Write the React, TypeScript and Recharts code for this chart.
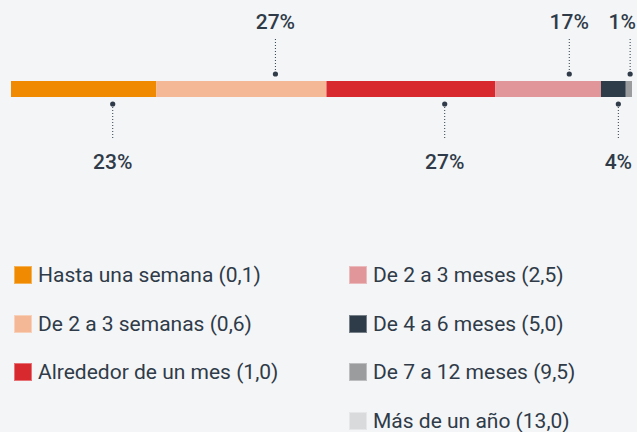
import { BarChart, Bar, XAxis, YAxis, LabelList } from 'recharts'

// Tiempo estimado, porcentaje de respuestas por tramo
const CATEGORIAS = [
  'Hasta una semana',
  'De 2 a 3 semanas',
  'Alrededor de un mes',
  'De 2 a 3 meses',
  'De 4 a 6 meses',
  'De 7 a 12 meses',
  'Más de un año'
]
const PORCENTAJES = [23.4, 27.4, 27.2, 17.0, 4.0, 1.0, 0]
const PROMEDIOS = ['0,1', '0,6', '1,0', '2,5', '5,0', '9,5', '13,0']

const COLORES = ['#F08A00', '#F5B896', '#D8292F', '#E1969A', '#2E3C49', '#9A9C9E', '#D9DADC']
const TEXTO = '#2F3B48'
const FONDO = '#F4F5F7'

const ANCHO = 637
const ALTO_GRAFICO = 178

const fila: Record<string, string | number> = { name: 'total' }
CATEGORIAS.forEach((_, i) => {
  fila[`s${i}`] = PORCENTAJES[i]
})
const datos = [fila]

function Etiqueta(props: any, serie: number) {
  const { x, y, width, height, value } = props
  if (!value) return null
  const cx = x + width * 0.7
  const arriba = serie % 2 === 1
  const texto = `${Math.round(value)}%`
  const cerca = cx + 14 > ANCHO
  const tx = cerca ? ANCHO - 1 : cx
  const anchor = cerca ? 'end' : 'middle'

  if (arriba) {
    const dotY = y - 7
    return (
      <g>
        <line x1={cx} x2={cx} y1={y - 42} y2={dotY} stroke={TEXTO} strokeWidth={1} strokeDasharray="1 2" />
        <circle cx={cx} cy={dotY} r={2.6} fill={TEXTO} />
        <text x={tx} y={y - 52} textAnchor={anchor} fill={TEXTO} fontSize={21} fontWeight={500}>
          {texto}
        </text>
      </g>
    )
  }
  const base = y + height
  const dotY = base + 7
  return (
    <g>
      <line x1={cx} x2={cx} y1={dotY} y2={base + 41} stroke={TEXTO} strokeWidth={1} strokeDasharray="1 2" />
      <circle cx={cx} cy={dotY} r={2.6} fill={TEXTO} />
      <text x={tx} y={base + 72} textAnchor={anchor} fill={TEXTO} fontSize={21} fontWeight={500}>
        {texto}
      </text>
    </g>
  )
}

function ItemLeyenda({ i }: { i: number }) {
  return (
    <div style={{ display: 'flex', alignItems: 'center', height: 48.7 }}>
      <div
        style={{
          width: 18,
          height: 18,
          background: COLORES[i],
          boxSizing: 'border-box',
          border: '1px solid rgba(255,255,255,0.35)',
          marginRight: 6,
          flexShrink: 0
        }}
      />
      <span style={{ fontSize: 21, color: TEXTO, whiteSpace: 'nowrap' }}>
        {CATEGORIAS[i]} ({PROMEDIOS[i]})
      </span>
    </div>
  )
}

export default function App() {
  const izquierda = [0, 1, 2]
  const derecha = [3, 4, 5, 6]
  return (
    <div
      style={{
        position: 'relative',
        width: ANCHO,
        height: 432,
        background: FONDO,
        fontFamily: 'Roboto, "Noto Sans", sans-serif',
        overflow: 'hidden'
      }}
    >
      <style>{`body{margin:0;background:${FONDO};}`}</style>
      <BarChart
        width={ANCHO}
        height={ALTO_GRAFICO}
        data={datos}
        layout="vertical"
        margin={{ top: 0, right: 5, bottom: 0, left: 11 }}
        style={{ fontFamily: 'Roboto, "Noto Sans", sans-serif', overflow: 'visible' }}
      >
        <XAxis type="number" domain={[0, 100]} hide />
        <YAxis type="category" dataKey="name" hide />
        {CATEGORIAS.map((c, i) => (
          <Bar
            key={c}
            dataKey={`s${i}`}
            name={c}
            stackId="a"
            fill={COLORES[i]}
            barSize={16}
            isAnimationActive={false}
          >
            <LabelList dataKey={`s${i}`} content={(p: any) => Etiqueta(p, i)} />
          </Bar>
        ))}
      </BarChart>

      <div style={{ position: 'absolute', top: 250.7, left: 14, display: 'flex' }}>
        <div style={{ width: 335 }}>
          {izquierda.map(i => <ItemLeyenda key={i} i={i} />)}
        </div>
        <div>
          {derecha.map(i => <ItemLeyenda key={i} i={i} />)}
        </div>
      </div>
    </div>
  )
}
